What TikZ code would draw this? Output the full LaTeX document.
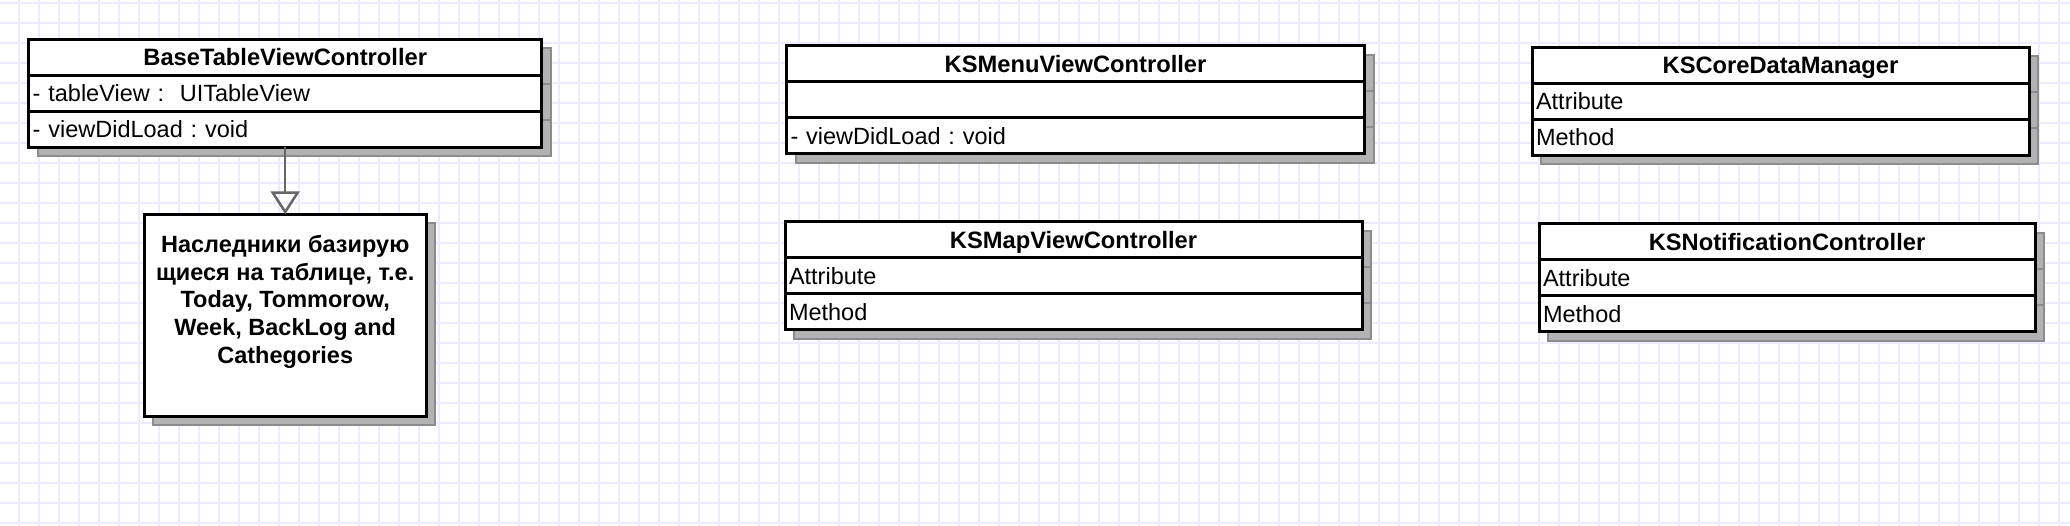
\documentclass[tikz,border=0pt]{standalone}
\usepackage{fontspec}
\setmainfont{Liberation Sans}
\usetikzlibrary{positioning,shadows,arrows.meta}

\definecolor{gridblue}{RGB}{236,236,254}
\frenchspacing

\tikzset{
    boxshadow/.style={drop shadow={shadow xshift=9pt, shadow yshift=-9pt,
        fill=black!30, draw=black!45, line width=2pt, opacity=1}},
    classbox/.style={draw, line width=3pt, fill=white, outer sep=0pt,
        inner xsep=4pt, inner ysep=0pt, minimum height=36pt,
        text height=16.8pt, text depth=0pt, boxshadow},
    classtitle/.style={classbox, align=center,
        font=\fontsize{23.7}{27.8}\selectfont\bfseries},
    classrow/.style={classbox, align=left,
        font=\fontsize{23.5}{27.8}\selectfont},
    heirbox/.style={draw, line width=3pt, fill=white, outer sep=0pt,
        inner xsep=4pt, inner ysep=4pt, minimum width=282pt, align=center,
        text height=145.2pt, text depth=48.8pt, boxshadow,
        font=\fontsize{23.5}{27.8}\selectfont\bfseries},
    inherit/.style={draw=black!60, line width=2.5pt,
        -{Triangle[open, width=29pt, length=23pt]}}
}

\begin{document}
\begin{tikzpicture}[x=1pt,y=-1pt]
    \useasboundingbox (0,0) rectangle (2070,526);
    \fill[white] (0,0) rectangle (2070,526);
    % background grid
    \foreach \gx in {19,39,...,2059}
        \draw[gridblue, line width=1.3pt] (\gx,0) -- (\gx,526);
    \foreach \gy in {3,23,...,523}
        \draw[gridblue, line width=1.3pt] (0,\gy) -- (2070,\gy);

    % BaseTableViewController
    \node[classtitle, text width=505pt, anchor=north west] (btvc) at (28.7,39.3) {BaseTableViewController};
    \node[classrow, text width=505pt, below=0pt of btvc] (btvc-attr) {- tableView :~ UITableView};
    \node[classrow, text width=505pt, below=0pt of btvc-attr] (btvc-meth) {- viewDidLoad : void};

    \node[heirbox, below=67pt of btvc-meth] (heirs) {Наследники базирую\\щиеся на таблице, т.е.\\Today, Tommorow,\\Week, BackLog and\\Cathegories};
    \draw[inherit] (btvc-meth) -- (heirs);

    % KSMenuViewController
    \node[classtitle, text width=570pt, anchor=north west] (menu) at (786.5,46) {KSMenuViewController};
    \node[classrow, text width=570pt, below=0pt of menu] (menu-attr) {};
    \node[classrow, text width=570pt, below=0pt of menu-attr] (menu-meth) {- viewDidLoad : void};

    % KSMapViewController
    \node[classtitle, text width=569pt, anchor=north west] (map) at (785,222) {KSMapViewController};
    \node[classrow, text width=569pt, below=0pt of map] (map-attr) {Attribute};
    \node[classrow, text width=569pt, below=0pt of map-attr] (map-meth) {Method};

    % KSCoreDataManager
    \node[classtitle, text width=489pt, anchor=north west] (core) at (1532,47.5) {KSCoreDataManager};
    \node[classrow, text width=489pt, below=0pt of core] (core-attr) {Attribute};
    \node[classrow, text width=489pt, below=0pt of core-attr] (core-meth) {Method};

    % KSNotificationController
    \node[classtitle, text width=488pt, anchor=north west] (notif) at (1539,224) {KSNotificationController};
    \node[classrow, text width=488pt, below=0pt of notif] (notif-attr) {Attribute};
    \node[classrow, text width=488pt, below=0pt of notif-attr] (notif-meth) {Method};
\end{tikzpicture}
\end{document}
